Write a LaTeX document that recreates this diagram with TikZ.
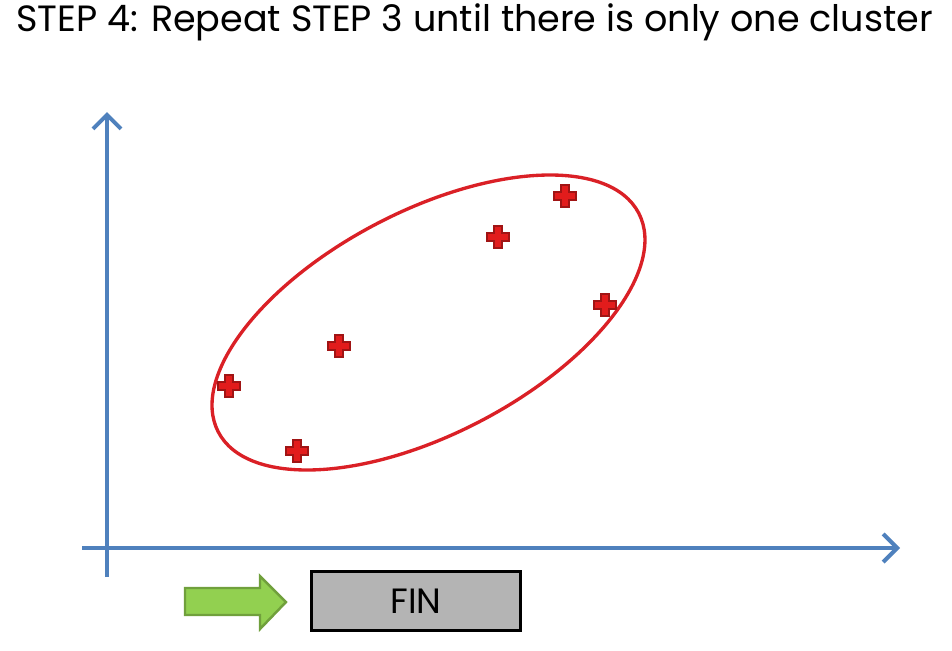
\documentclass[tikz,border=0pt]{standalone}
\usepackage{fontspec}
\setmainfont{Poppins}
\usetikzlibrary{arrows.meta}
\definecolor{axisblue}{RGB}{79,129,189}
\definecolor{clusterred}{RGB}{218,32,38}
\definecolor{plusred}{RGB}{226,28,28}
\definecolor{plusedge}{RGB}{160,20,20}
\definecolor{arrowgreen}{RGB}{146,208,80}
\definecolor{arrowedge}{RGB}{112,160,60}
\definecolor{fingray}{RGB}{180,180,180}
\tikzset{
  axis/.style={draw=axisblue, line width=2.3pt, -{Straight Barb[length=8pt,width=16pt,line width=2.3pt]}},
  redplus/.pic={
    \filldraw[fill=plusred, draw=plusedge, line width=0.6pt]
      (-4,-11) -- (4,-11) -- (4,-4) -- (11,-4) -- (11,4) -- (4,4) -- (4,11)
      -- (-4,11) -- (-4,4) -- (-11,4) -- (-11,-4) -- (-4,-4) -- cycle;
  },
  finbox/.style={draw=black, line width=1.7pt, fill=fingray, minimum width=4.2cm, minimum height=1.17cm, inner sep=0pt, font=\fontsize{20}{24}\selectfont}
}
\begin{document}
\begin{tikzpicture}[x=0.02cm, y=-0.02cm]
    \useasboundingbox (0,0) rectangle (952,650);

    % title
    \node[anchor=west, inner sep=0pt, font=\fontsize{20.8}{24}\selectfont] (title) at (16,22) {STEP 4: Repeat STEP 3 until there is only one cluster};

    % axes
    \coordinate (ybot) at (107,577);
    \coordinate (ytop) at (107,112);
    \coordinate (xleft) at (82,548);
    \coordinate (xright) at (900,548);
    \draw[axis] (ybot) -- (ytop);
    \draw[axis] (xleft) -- (xright);

    % cluster
    \coordinate (ctr) at (428.5,322.5);
    \draw[clusterred, line width=1.9pt, rotate around={27.5:(ctr)}] (ctr) ellipse (237 and 111.5);

    % points
    \pic at (565,196) {redplus};
    \pic at (498,237) {redplus};
    \pic at (605,305) {redplus};
    \pic at (339,346) {redplus};
    \pic at (229,386) {redplus};
    \pic at (297,451) {redplus};

    % green arrow
    \filldraw[fill=arrowgreen, draw=arrowedge, line width=1.4pt]
      (185,588) -- (260,588) -- (260,576) -- (286,602) -- (260,629) -- (260,615) -- (185,615) -- cycle;

    % FIN
    \node[finbox] (fin) at (416,601) {FIN};

\end{tikzpicture}
\end{document}
